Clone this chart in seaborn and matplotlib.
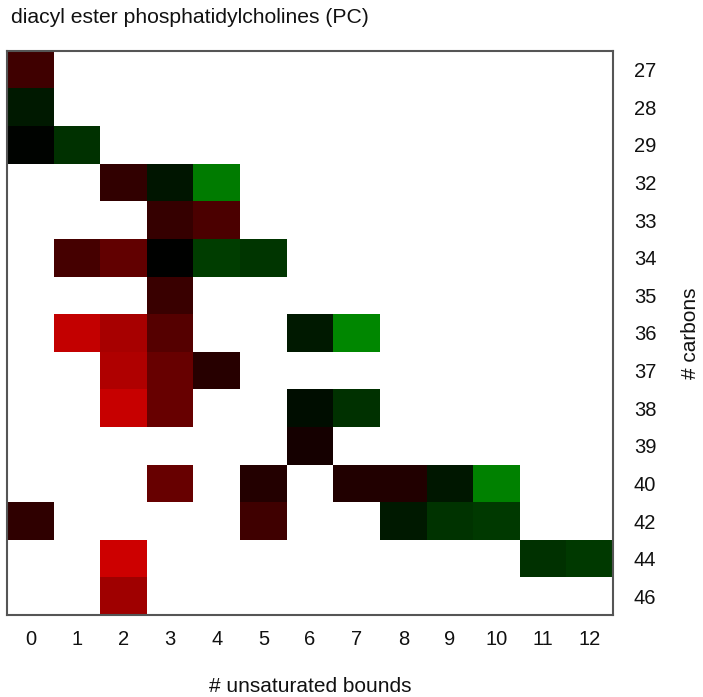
import numpy as np
import pandas as pd
import matplotlib
matplotlib.use("Agg")
import matplotlib.pyplot as plt
from matplotlib.colors import LinearSegmentedColormap
import seaborn as sns

sns.set_style("white")
plt.rcParams['font.family'] = ['Liberation Sans', 'DejaVu Sans']

carbons = [27, 28, 29, 32, 33, 34, 35, 36, 37, 38, 39, 40, 42, 44, 46]
unsaturated = list(range(13))

# (carbons, unsaturated bounds, value) ; negative = red, positive = green
cell_carbons = [27, 28, 29, 29,
                32, 32, 32,
                33, 33,
                34, 34, 34, 34, 34,
                35,
                36, 36, 36, 36, 36,
                37, 37, 37,
                38, 38, 38, 38,
                39,
                40, 40, 40, 40, 40, 40,
                42, 42, 42, 42, 42,
                44, 44, 44,
                46]
cell_bounds = [0, 0, 0, 1,
               2, 3, 4,
               3, 4,
               1, 2, 3, 4, 5,
               3,
               1, 2, 3, 6, 7,
               2, 3, 4,
               2, 3, 6, 7,
               6,
               3, 5, 7, 8, 9, 10,
               0, 5, 8, 9, 10,
               2, 11, 12,
               2]
cell_values = [-0.25, 0.10, 0.01, 0.19,
               -0.19, 0.08, 0.48,
               -0.21, -0.29,
               -0.27, -0.38, 0.0, 0.24, 0.21,
               -0.22,
               -0.76, -0.65, -0.33, 0.10, 0.53,
               -0.68, -0.40, -0.15,
               -0.78, -0.40, 0.05, 0.19,
               -0.08,
               -0.40, -0.14, -0.13, -0.13, 0.09, 0.50,
               -0.18, -0.25, 0.10, 0.20, 0.22,
               -0.80, 0.19, 0.22,
               -0.62]

df = pd.DataFrame({"carbons": cell_carbons, "bounds": cell_bounds, "value": cell_values})
grid = df.pivot(index="carbons", columns="bounds", values="value")
grid = grid.reindex(index=carbons, columns=unsaturated)

cmap = LinearSegmentedColormap.from_list("rg", ["#FF0000", "#000000", "#00FF00"])

fig = plt.figure(figsize=(7.03, 6.97), dpi=100)
ax = fig.add_axes([0.010, 0.1176, 0.862, 0.8094])
sns.heatmap(grid, ax=ax, cmap=cmap, vmin=-1, vmax=1, cbar=False,
            xticklabels=unsaturated, yticklabels=carbons)

for s in ax.spines.values():
    s.set_visible(True)
    s.set_color("#555555")
    s.set_linewidth(1.5)

ax.yaxis.tick_right()
ax.yaxis.set_label_position("right")
ax.tick_params(axis="both", length=0, labelsize=14.5, colors="#111111")
ax.tick_params(axis="y", pad=15, labelrotation=0)
ax.tick_params(axis="x", pad=11, labelrotation=0)
for t in ax.get_yticklabels():
    t.set_horizontalalignment("left")

ax.set_xlabel("# unsaturated bounds", fontsize=15, labelpad=20, color="#111111")
ax.set_ylabel("# carbons", fontsize=15, labelpad=18, rotation=90, color="#111111")

fig.text(0.0156, 0.975, "diacyl ester phosphatidylcholines (PC)", fontsize=15.2,
         ha="left", va="center", color="#111111")

fig.savefig("out.png", dpi=100)
